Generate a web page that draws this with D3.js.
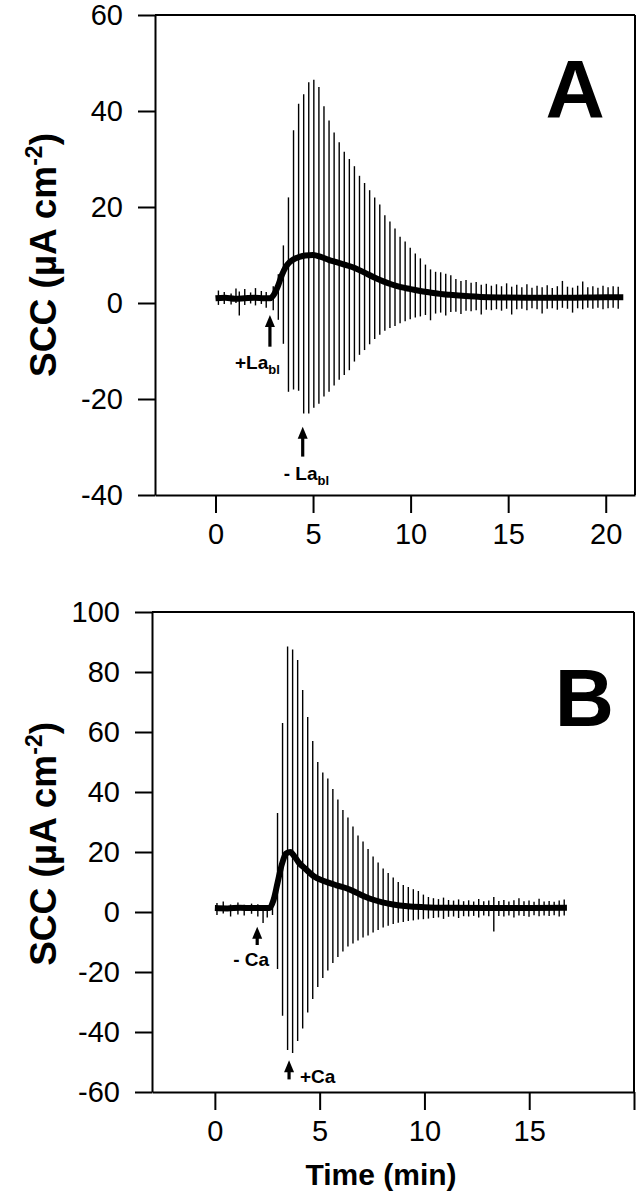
<!DOCTYPE html>
<html>
<head>
<meta charset="utf-8">
<script src="https://cdn.jsdelivr.net/npm/d3@7"></script>
<style>
body { margin: 0; background: #fff; }
text { font-family: "Liberation Sans", Arial, sans-serif; fill: #000; }
.tick text { font-size: 29px; }
.axTitle { font-size: 37px; font-weight: bold; }
.note { font-weight: bold; font-size: 19px; }
.panelLetter { font-weight: bold; font-size: 82px; }
</style>
</head>
<body>
<div id="canvas"></div>
<script>
"use strict"

// ---- data ----
let xTicks = [0, 5, 10, 15, 20];
let yTicksA = [-40, -20, 0, 20, 40, 60];
let yTicksB = [-60, -40, -20, 0, 20, 40, 60, 80, 100];

// panel A : thick mean trace
let traceTimeA = [0, 0.5, 1, 1.5, 2, 2.5, 2.8, 3.0, 3.2, 3.4, 3.6, 3.8, 4.0, 4.3, 4.6, 5.0, 5.4, 5.8, 6.2, 6.6, 7.0, 7.4, 7.8, 8.2, 8.6, 9.0, 9.5, 10, 10.5, 11, 11.5, 12, 13, 14, 16, 18, 20, 20.9];
let traceValA  = [1, 1.1, 0.9, 1.0, 1.1, 1.0, 1.0, 1.8, 3.5, 5.8, 7.5, 8.5, 9.1, 9.6, 9.9, 10.0, 9.6, 9.0, 8.5, 8.0, 7.5, 6.8, 6.0, 5.2, 4.5, 3.9, 3.3, 2.9, 2.5, 2.2, 1.9, 1.7, 1.4, 1.2, 1.1, 1.1, 1.2, 1.2];

// panel A : spikes (time, top, bottom)
let spikeTimeA = [0.15, 0.45, 0.8, 1.05, 1.22, 1.5, 1.8, 2.05, 2.35, 2.6,
    2.96, 3.22, 3.48, 3.74, 4.00, 4.26, 4.52, 4.78, 5.04, 5.30, 5.56, 5.82, 6.08, 6.34, 6.60, 6.86, 7.12, 7.38, 7.64, 7.90,
    8.16, 8.42, 8.68, 8.94, 9.20, 9.46, 9.72, 9.98, 10.24, 10.50, 10.76, 11.02, 11.28, 11.54, 11.80, 12.06, 12.32, 12.58, 12.84, 13.10,
    13.36, 13.62, 13.88, 14.14, 14.40, 14.66, 14.92, 15.18, 15.44, 15.70, 15.96, 16.22, 16.48, 16.74, 17.00, 17.26, 17.52, 17.78, 18.04, 18.30,
    18.56, 18.82, 19.08, 19.34, 19.60, 19.86, 20.12, 20.38, 20.64];
let spikeTopA = [2.6, 2.3, 2.0, 3.0, 2.4, 2.9, 2.2, 3.1, 2.5, 2.3,
    3.5, 6, 12, 22, 36, 41.5, 43.5, 46, 46.5, 45, 41, 38, 35.5, 33.5, 31.5, 30, 28.5, 26.5, 25, 23.5,
    22, 20.5, 18.3, 17, 15.5, 13.8, 12.8, 11.5, 10.3, 9.3, 8, 7, 6.5, 6.4, 6.1, 5.8, 5, 4.6, 4.8, 4.2,
    4.4, 3.8, 4, 3.6, 3.9, 3.5, 4.1, 3.4, 3.8, 3.3, 3.9, 3.2, 3.6, 3.3, 3.7, 3.1, 3.5, 4.6, 3.4, 3.2,
    3.6, 4.5, 3.3, 3.5, 3.2, 3.6, 3.3, 3.5, 3.4];
let spikeBotA = [-0.4, -0.2, -0.3, 0, -2.6, -0.4, -0.1, -0.5, -0.2, -1.0,
    -1.5, -3.5, -8.5, -18.5, -18, -18.3, -23, -23, -21.8, -21, -19.5, -18.5, -17.2, -16, -15, -14, -12.2, -10.8, -9.8, -8.6,
    -7.5, -6.6, -5.8, -5.2, -4.8, -4.2, -3.8, -3.4, -3, -2.8, -2.5, -3.6, -2.2, -2, -2.6, -1.9, -1.8, -2.3, -1.6, -1.7,
    -1.5, -2.4, -1.4, -1.5, -1.3, -1.6, -1.2, -2.4, -1.3, -1.2, -1.5, -1.1, -1.3, -2.2, -1.2, -1.1, -1.4, -1.0, -1.2, -2,
    -1.1, -1.3, -1.0, -1.2, -1.0, -1.3, -1.1, -1.0, -1.2];

// panel B : thick mean trace
let traceTimeB = [0, 0.6, 1.2, 1.8, 2.4, 2.6, 2.8, 3.0, 3.2, 3.4, 3.6, 3.8, 4.0, 4.3, 4.7, 5.2, 5.8, 6.4, 6.8, 7.2, 7.6, 8.0, 8.5, 9.2, 10, 11, 13, 15, 16.8];
let traceValB  = [1.3, 1.2, 1.4, 1.3, 1.3, 1.3, 4, 10, 16, 19.5, 20, 18.5, 16.5, 14.5, 12, 10.3, 8.9, 7.6, 6.3, 5, 4, 3.2, 2.5, 1.9, 1.6, 1.4, 1.3, 1.3, 1.4];

// panel B : spikes (time, top, bottom)
let spikeTimeB = [0.1, 0.4, 0.75, 1.1, 1.4, 1.75, 2.05, 2.3, 2.5,
    2.75, 2.99, 3.23, 3.47, 3.71, 3.95, 4.19, 4.43, 4.67, 4.91, 5.15, 5.39, 5.63, 5.87, 6.11, 6.35, 6.59, 6.83, 7.07, 7.31,
    7.55, 7.79, 8.03, 8.27, 8.51, 8.75, 8.99, 9.23, 9.47, 9.71, 9.95, 10.19, 10.43, 10.67, 10.91, 11.15, 11.39, 11.63, 11.87, 12.11,
    12.35, 12.59, 12.83, 13.07, 13.31, 13.55, 13.79, 14.03, 14.27, 14.51, 14.75, 14.99, 15.23, 15.47, 15.71, 15.95, 16.19, 16.43, 16.67];
let spikeTopB = [3, 3.5, 2.5, 3.2, 2.4, 2.8, 2.6, 2.2, 2.0,
    5, 33, 63, 88.5, 87.5, 84, 74, 65, 57, 50, 46.5, 44.5, 41, 37.5, 34, 31.5, 28.5, 25.5, 23.5, 21,
    18.5, 16.5, 14.5, 13, 11.5, 10, 9, 8.3, 7.6, 7, 5.8, 5, 4.6, 4.3, 4.8, 4, 3.8, 4.2, 3.6, 3.9,
    3.5, 4.3, 3.6, 3.8, 5, 3.7, 4, 3.5, 3.9, 4.6, 3.6, 3.8, 3.4, 4.4, 3.5, 3.7, 3.4, 3.8, 4.2];
let spikeBotB = [-1, -0.5, -1.5, -0.8, -1.2, -0.6, -1.5, -3.7, -1.8,
    -1, -19, -34.6, -46, -47, -43, -38.8, -33.5, -29, -25, -22, -19.5, -17, -15, -13.2, -11.5, -10.5, -9.5, -8.5, -7.8,
    -6.8, -6, -5.2, -4.6, -4, -3.6, -3.3, -3, -2.8, -2.5, -2.4, -2.2, -2, -1.8, -2.3, -1.6, -1.5, -2, -1.4, -1.5,
    -1.3, -1.8, -1.2, -1.4, -6.5, -1.3, -1.5, -1.2, -1.8, -1.2, -1.3, -1.6, -1.1, -1.4, -1.2, -1.3, -1.1, -1.5, -1.2];

// arrows and labels (time, head value, tail value)
let arrowsA = [[2.79, -2.5, -9.1], [4.47, -25.8, -32]];
let labelsA = [{t: 2.15, v: -13.8, main: "+La", sub: "bl", anchor: "middle"},
               {t: 4.66, v: -36.9, main: "- La", sub: "bl", anchor: "middle"}];
let arrowsB = [[2.02, -4.9, -11], [3.54, -49.4, -55.8]];
let labelsB = [{t: 1.73, v: -17.9, main: "- Ca", sub: "", anchor: "middle"},
               {t: 4.06, v: -57, main: "+Ca", sub: "", anchor: "start"}];

// ---- canvas ----
let svgWidth = 641;
let svgHeight = 1199;

let svg = d3.select("#canvas")
    .append("svg")
    .attr("width", svgWidth)
    .attr("height", svgHeight);

svg.append("rect")
    .attr("width", svgWidth)
    .attr("height", svgHeight)
    .attr("fill", "#fff");

function zip3(a, b, c) {
    return a.map(function(d, i) { return {t: d, hi: b[i], lo: c[i]}; });
}

function drawPanel(p) {
    let x = d3.scaleLinear().domain(p.xDomain).range([p.left, p.right]);
    let y = d3.scaleLinear().domain(p.yDomain).range([p.bottom, p.top]);
    let g = svg.append("g");

    // spikes
    g.selectAll(".spike")
        .data(zip3(p.spikeTime, p.spikeTop, p.spikeBot))
        .enter().append("line")
        .attr("x1", function(d) { return x(d.t); })
        .attr("x2", function(d) { return x(d.t); })
        .attr("y1", function(d) { return y(d.hi); })
        .attr("y2", function(d) { return y(d.lo); })
        .attr("stroke", "#000")
        .attr("stroke-width", 1.4);

    // thick mean trace
    let line = d3.line()
        .x(function(d) { return x(d[0]); })
        .y(function(d) { return y(d[1]); })
        .curve(d3.curveMonotoneX);
    g.append("path")
        .datum(p.traceTime.map(function(t, i) { return [t, p.traceVal[i]]; }))
        .attr("d", line)
        .attr("fill", "none")
        .attr("stroke", "#000")
        .attr("stroke-width", 6)
        .attr("stroke-linejoin", "round");

    // axes (plain hyphen for negatives, like the original)
    let yAxis = d3.axisLeft(y).tickValues(p.yTicks).tickSize(17).tickPadding(15).tickSizeOuter(0)
        .tickFormat(function(d) { return String(d); });
    let xAxis = d3.axisBottom(x).tickValues(xTicks).tickSize(18).tickPadding(10).tickSizeOuter(0)
        .tickFormat(function(d) { return p.hideLast && d === 20 ? "" : String(d); });

    let ya = g.append("g").attr("transform", "translate(" + p.left + ",0)").call(yAxis);
    let xa = g.append("g").attr("transform", "translate(0," + p.bottom + ")").call(xAxis);
    [ya, xa].forEach(function(a) {
        a.selectAll("path, line").attr("stroke", "#000").attr("stroke-width", 2);
        a.selectAll("text").attr("fill", "#000").style("font-size", "29px");
    });

    // top and right frame
    g.append("line").attr("x1", p.left).attr("x2", p.right).attr("y1", p.top).attr("y2", p.top)
        .attr("stroke", "#000").attr("stroke-width", 2);
    g.append("line").attr("x1", p.right).attr("x2", p.right).attr("y1", p.top).attr("y2", p.bottom)
        .attr("stroke", "#000").attr("stroke-width", 2);

    // arrows
    p.arrows.forEach(function(a) {
        let ax = x(a[0]), hy = y(a[1]), ty = y(a[2]);
        g.append("line").attr("x1", ax).attr("x2", ax).attr("y1", hy + 8).attr("y2", ty)
            .attr("stroke", "#000").attr("stroke-width", 3.2);
        g.append("path")
            .attr("d", "M" + ax + "," + hy + "L" + (ax - 5) + "," + (hy + 12) + "L" + (ax + 5) + "," + (hy + 12) + "Z")
            .attr("fill", "#000");
    });

    // annotation labels
    p.labels.forEach(function(l) {
        let t = g.append("text").attr("class", "note")
            .attr("x", x(l.t)).attr("y", y(l.v))
            .attr("text-anchor", l.anchor);
        t.append("tspan").text(l.main);
        if (l.sub) t.append("tspan").attr("dy", 5).style("font-size", "13px").text(l.sub);
    });

    // panel letter
    g.append("text").attr("class", "panelLetter")
        .attr("x", x(p.letterPos[0])).attr("y", y(p.letterPos[1]))
        .attr("text-anchor", "middle")
        .text(p.letter);

    // y axis title
    let yt = g.append("text").attr("class", "axTitle")
        .attr("transform", "translate(" + p.titleX + "," + y(p.titleV) + ") rotate(-90)")
        .attr("text-anchor", "middle");
    yt.append("tspan").text("SCC (\u00b5A cm");
    yt.append("tspan").attr("dy", -14).style("font-size", "23px").text("-2");
    yt.append("tspan").attr("dy", 14).text(")");
}

drawPanel({
    left: 155, right: 635, top: 15, bottom: 495,
    xDomain: [-3.1, 21.5], yDomain: [-40, 60], yTicks: yTicksA,
    spikeTime: spikeTimeA, spikeTop: spikeTopA, spikeBot: spikeBotA,
    traceTime: traceTimeA, traceVal: traceValA,
    arrows: arrowsA, labels: labelsA,
    letter: "A", letterPos: [18.43, 38.75],
    titleX: 56, titleV: 10, hideLast: false
});

drawPanel({
    left: 152, right: 634, top: 612, bottom: 1092,
    xDomain: [-3, 20], yDomain: [-60, 100], yTicks: yTicksB,
    spikeTime: spikeTimeB, spikeTop: spikeTopB, spikeBot: spikeBotB,
    traceTime: traceTimeB, traceVal: traceValB,
    arrows: arrowsB, labels: labelsB,
    letter: "B", letterPos: [17.63, 62.1],
    titleX: 56, titleV: 22.7, hideLast: true
});

// x axis title
svg.append("text")
    .attr("class", "axTitle")
    .attr("x", 381)
    .attr("y", 1185)
    .attr("text-anchor", "middle")
    .style("font-size", "30px")
    .text("Time (min)");
</script>
</body>
</html>
